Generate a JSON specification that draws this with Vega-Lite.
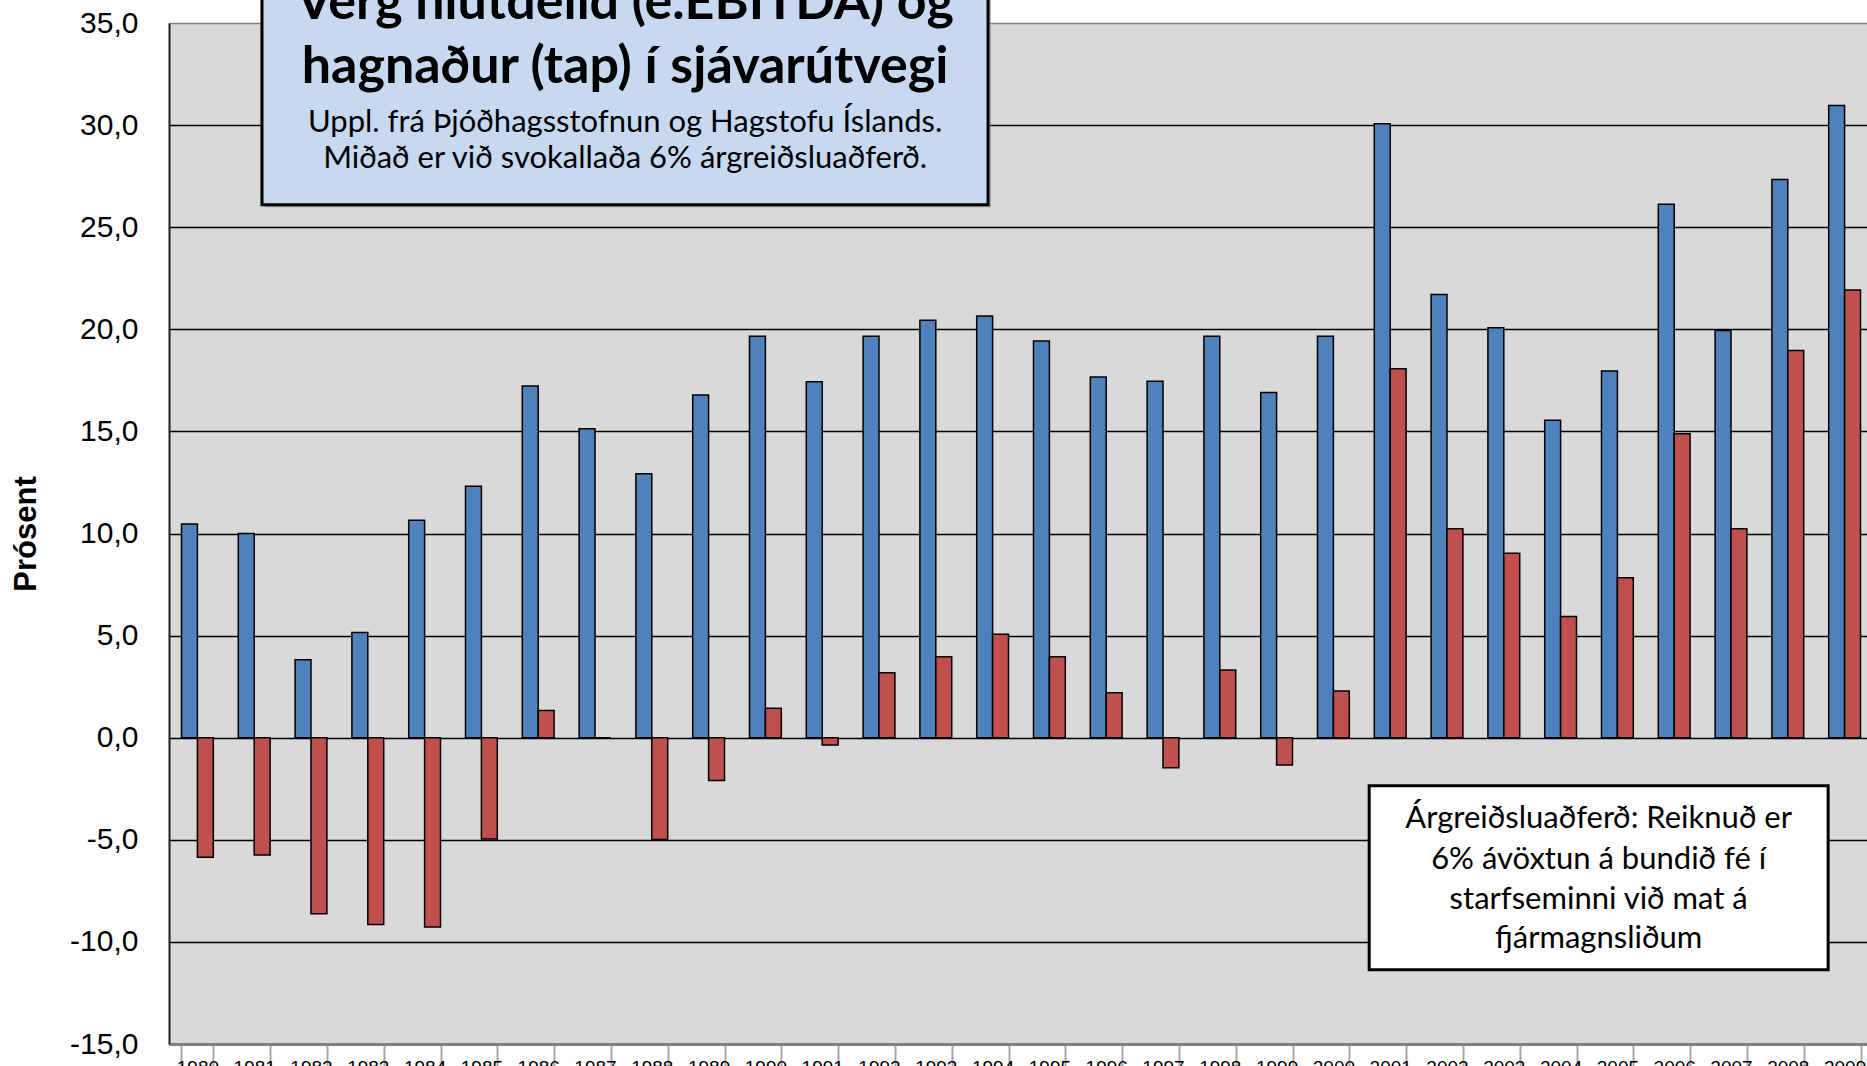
{
  "$schema": "https://vega.github.io/schema/vega-lite/v6.json",
  "width": 1704,
  "height": 1021,
  "autosize": {"type": "none"},
  "padding": {"left": 169, "top": 23, "right": -6, "bottom": 22},
  "background": "white",
  "config": {"view": {"fill": "#D9D9D9", "stroke": null}, "font": "Liberation Sans"},
  "layer": [
    {
      "data": {"values": [
        {"year": "1980", "series": "EBITDA", "value": 10.46}, {"year": "1980", "series": "Hagnaður", "value": -5.85},
        {"year": "1981", "series": "EBITDA", "value": 10.0}, {"year": "1981", "series": "Hagnaður", "value": -5.74},
        {"year": "1982", "series": "EBITDA", "value": 3.82}, {"year": "1982", "series": "Hagnaður", "value": -8.62},
        {"year": "1983", "series": "EBITDA", "value": 5.15}, {"year": "1983", "series": "Hagnaður", "value": -9.15},
        {"year": "1984", "series": "EBITDA", "value": 10.65}, {"year": "1984", "series": "Hagnaður", "value": -9.27},
        {"year": "1985", "series": "EBITDA", "value": 12.31}, {"year": "1985", "series": "Hagnaður", "value": -4.96},
        {"year": "1986", "series": "EBITDA", "value": 17.22}, {"year": "1986", "series": "Hagnaður", "value": 1.33},
        {"year": "1987", "series": "EBITDA", "value": 15.13}, {"year": "1987", "series": "Hagnaður", "value": 0},
        {"year": "1988", "series": "EBITDA", "value": 12.93}, {"year": "1988", "series": "Hagnaður", "value": -4.98},
        {"year": "1989", "series": "EBITDA", "value": 16.78}, {"year": "1989", "series": "Hagnaður", "value": -2.1},
        {"year": "1990", "series": "EBITDA", "value": 19.66}, {"year": "1990", "series": "Hagnaður", "value": 1.44},
        {"year": "1991", "series": "EBITDA", "value": 17.43}, {"year": "1991", "series": "Hagnaður", "value": -0.36},
        {"year": "1992", "series": "EBITDA", "value": 19.66}, {"year": "1992", "series": "Hagnaður", "value": 3.18},
        {"year": "1993", "series": "EBITDA", "value": 20.44}, {"year": "1993", "series": "Hagnaður", "value": 3.96},
        {"year": "1994", "series": "EBITDA", "value": 20.65}, {"year": "1994", "series": "Hagnaður", "value": 5.06},
        {"year": "1995", "series": "EBITDA", "value": 19.43}, {"year": "1995", "series": "Hagnaður", "value": 3.97},
        {"year": "1996", "series": "EBITDA", "value": 17.67}, {"year": "1996", "series": "Hagnaður", "value": 2.2},
        {"year": "1997", "series": "EBITDA", "value": 17.45}, {"year": "1997", "series": "Hagnaður", "value": -1.47},
        {"year": "1998", "series": "EBITDA", "value": 19.66}, {"year": "1998", "series": "Hagnaður", "value": 3.31},
        {"year": "1999", "series": "EBITDA", "value": 16.9}, {"year": "1999", "series": "Hagnaður", "value": -1.34},
        {"year": "2000", "series": "EBITDA", "value": 19.66}, {"year": "2000", "series": "Hagnaður", "value": 2.29},
        {"year": "2001", "series": "EBITDA", "value": 30.07}, {"year": "2001", "series": "Hagnaður", "value": 18.07},
        {"year": "2002", "series": "EBITDA", "value": 21.7}, {"year": "2002", "series": "Hagnaður", "value": 10.23},
        {"year": "2003", "series": "EBITDA", "value": 20.07}, {"year": "2003", "series": "Hagnaður", "value": 9.03},
        {"year": "2004", "series": "EBITDA", "value": 15.54}, {"year": "2004", "series": "Hagnaður", "value": 5.93},
        {"year": "2005", "series": "EBITDA", "value": 17.96}, {"year": "2005", "series": "Hagnaður", "value": 7.83},
        {"year": "2006", "series": "EBITDA", "value": 26.12}, {"year": "2006", "series": "Hagnaður", "value": 14.88},
        {"year": "2007", "series": "EBITDA", "value": 19.94}, {"year": "2007", "series": "Hagnaður", "value": 10.23},
        {"year": "2008", "series": "EBITDA", "value": 27.34}, {"year": "2008", "series": "Hagnaður", "value": 18.96},
        {"year": "2009", "series": "EBITDA", "value": 30.96}, {"year": "2009", "series": "Hagnaður", "value": 21.93}
      ]},
      "mark": {"type": "bar", "stroke": "black", "strokeWidth": 1.5},
      "encoding": {
        "x": {
          "field": "year", "type": "nominal",
          "scale": {"paddingInner": 0.44, "paddingOuter": 0.22},
          "axis": {
            "title": null, "labelFontSize": 19, "labelColor": "black", "labelBaseline": "top",
            "labelPadding": -10, "labelAngle": 0, "tickBand": "extent", "tickSize": 24,
            "tickColor": "#A6A6A6", "tickWidth": 2, "domainColor": "#808080", "domainWidth": 3, "grid": false
          }
        },
        "xOffset": {"field": "series", "type": "nominal", "sort": ["EBITDA", "Hagnaður"], "scale": {"paddingInner": 0, "paddingOuter": 0}},
        "y": {
          "field": "value", "type": "quantitative",
          "scale": {"domain": [-15, 35], "nice": false, "zero": false},
          "axis": {
            "title": "Prósent", "titleFont": "Liberation Sans", "titleFontSize": 31, "titleFontWeight": "bold",
            "titleColor": "black", "titlePadding": 27,
            "values": [-15, -10, -5, 0, 5, 10, 15, 20, 25, 30, 35],
            "labelExpr": "replace(replace(format(datum.value, '.1f'), '.', ','), '\u2212', '-')",
            "labelFontSize": 30, "labelColor": "black", "labelPadding": 31, "ticks": false, "tickSize": 0,
            "domainColor": "#202020", "domainWidth": 2, "grid": true,
            "gridColor": {"condition": {"test": "datum.value == 35 || datum.value == -15", "value": "#808080"}, "value": "black"},
            "gridWidth": 1.5
          }
        },
        "color": {
          "field": "series", "type": "nominal",
          "scale": {"domain": ["EBITDA", "Hagnaður"], "range": ["#4F81BD", "#C0504D"]},
          "legend": null
        }
      }
    },
    {
      "data": {"values": [{"x1": 1.69, "x2": 14.47, "y1": 25.98, "y2": 40}]},
      "mark": {"type": "rect", "fill": "#8C8C8C", "opacity": 0.7},
      "encoding": {
        "x": {"field": "x1", "type": "quantitative", "scale": {"domain": [0, 30], "nice": false, "zero": false}, "axis": null},
        "x2": {"field": "x2"},
        "y": {"field": "y1", "type": "quantitative", "scale": {"domain": [-15, 35], "nice": false, "zero": false}, "axis": null},
        "y2": {"field": "y2"}
      }
    },
    {
      "data": {"values": [{"x1": 1.637, "x2": 14.42, "y1": 26.1, "y2": 40}]},
      "mark": {"type": "rect", "fill": "#C6D9F1", "stroke": "black", "strokeWidth": 3},
      "encoding": {
        "x": {"field": "x1", "type": "quantitative", "scale": {"domain": [0, 30], "nice": false, "zero": false}, "axis": null},
        "x2": {"field": "x2"},
        "y": {"field": "y1", "type": "quantitative", "scale": {"domain": [-15, 35], "nice": false, "zero": false}, "axis": null},
        "y2": {"field": "y2"}
      }
    },
    {
      "data": {"values": [
        {"x": 8.03, "y": 35.2, "text": "Verg hlutdeild (e.EBITDA) og"},
        {"x": 8.03, "y": 32.08, "text": "hagnaður (tap) í sjávarútvegi"}
      ]},
      "mark": {"type": "text", "font": "Lato", "fontWeight": "bold", "fontSize": 52, "color": "black", "baseline": "alphabetic", "align": "center"},
      "encoding": {
        "x": {"field": "x", "type": "quantitative", "scale": {"domain": [0, 30], "nice": false, "zero": false}, "axis": null},
        "y": {"field": "y", "type": "quantitative", "scale": {"domain": [-15, 35], "nice": false, "zero": false}, "axis": null},
        "text": {"field": "text"}
      }
    },
    {
      "data": {"values": [
        {"x": 8.03, "y": 29.68, "text": "Uppl. frá Þjóðhagsstofnun og Hagstofu Íslands."},
        {"x": 8.03, "y": 27.91, "text": "Miðað er við svokallaða 6% árgreiðsluaðferð."}
      ]},
      "mark": {"type": "text", "font": "Lato", "fontSize": 31, "color": "black", "baseline": "alphabetic", "align": "center"},
      "encoding": {
        "x": {"field": "x", "type": "quantitative", "scale": {"domain": [0, 30], "nice": false, "zero": false}, "axis": null},
        "y": {"field": "y", "type": "quantitative", "scale": {"domain": [-15, 35], "nice": false, "zero": false}, "axis": null},
        "text": {"field": "text"}
      }
    },
    {
      "data": {"values": [{"x1": 21.13, "x2": 29.21, "y1": -2.35, "y2": -11.36}]},
      "mark": {"type": "rect", "fill": "white", "stroke": "black", "strokeWidth": 3},
      "encoding": {
        "x": {"field": "x1", "type": "quantitative", "scale": {"domain": [0, 30], "nice": false, "zero": false}, "axis": null},
        "x2": {"field": "x2"},
        "y": {"field": "y1", "type": "quantitative", "scale": {"domain": [-15, 35], "nice": false, "zero": false}, "axis": null},
        "y2": {"field": "y2"}
      }
    },
    {
      "data": {"values": [
        {"x": 25.17, "y": -3.97, "text": "Árgreiðsluaðferð:  Reiknuð er"},
        {"x": 25.17, "y": -5.97, "text": "6% ávöxtun á  bundið fé í"},
        {"x": 25.17, "y": -7.93, "text": "starfseminni  við mat á"},
        {"x": 25.17, "y": -9.84, "text": "fjármagnsliðum"}
      ]},
      "mark": {"type": "text", "font": "Lato", "fontSize": 31, "color": "black", "baseline": "middle", "align": "center"},
      "encoding": {
        "x": {"field": "x", "type": "quantitative", "scale": {"domain": [0, 30], "nice": false, "zero": false}, "axis": null},
        "y": {"field": "y", "type": "quantitative", "scale": {"domain": [-15, 35], "nice": false, "zero": false}, "axis": null},
        "text": {"field": "text"}
      }
    }
  ],
  "resolve": {"scale": {"x": "independent", "y": "independent"}}
}
